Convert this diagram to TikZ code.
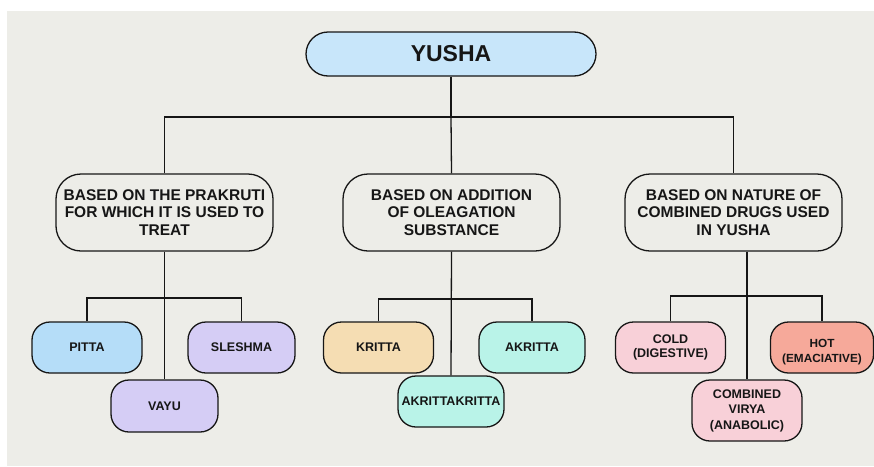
\documentclass[tikz,border=0pt]{standalone}
\usepackage{fontspec}
\setmainfont{Liberation Sans}
\definecolor{bg}{HTML}{EDEDE8}
\definecolor{ink}{HTML}{161616}
\definecolor{cyusha}{HTML}{C8E6FA}
\definecolor{cpitta}{HTML}{B5DDF8}
\definecolor{clav}{HTML}{D5CDF5}
\definecolor{cbeige}{HTML}{F5DDB3}
\definecolor{cmint}{HTML}{B9F3E8}
\definecolor{cpink}{HTML}{F8D0D8}
\definecolor{csalmon}{HTML}{F6A99A}
\tikzset{
  box/.style={draw=ink, line width=1.3pt, align=center, text=ink, inner sep=0pt, font=\bfseries},
  topbox/.style={box, rounded corners=22pt, minimum width=290pt, minimum height=44pt, fill=cyusha, font=\fontsize{23}{26}\selectfont\bfseries},
  midbox/.style={box, rounded corners=25pt, minimum width=217pt, minimum height=77pt, font=\fontsize{15.5}{17.5}\selectfont\bfseries},
  leaf/.style={box, rounded corners=18pt, minimum height=51pt, font=\fontsize{12.5}{14.5}\selectfont\bfseries},
  conn/.style={draw=ink, line width=1.3pt}
}
\begin{document}
\begin{tikzpicture}[x=1pt,y=-1pt]
\useasboundingbox (0,0) rectangle (874,466);
\fill[white] (0,0) rectangle (874,466);
\fill[bg] (7,11) rectangle (874,466);

\node[topbox] (yusha) at (451,54) {YUSHA};

\node[midbox] (b1) at (164.5,212.5) {BASED ON THE PRAKRUTI\\FOR WHICH IT IS USED TO\\TREAT};
\node[midbox] (b2) at (451.5,212.5) {BASED ON ADDITION\\OF OLEAGATION\\SUBSTANCE};
\node[midbox] (b3) at (733.5,212.5) {BASED ON NATURE OF\\COMBINED DRUGS USED\\IN YUSHA};

\node[leaf, fill=cpitta, minimum width=110pt] (pitta) at (87,347.5) {PITTA};
\node[leaf, fill=clav, minimum width=107pt] (sleshma) at (241.5,347.5) {SLESHMA};
\node[leaf, fill=clav, minimum width=107pt, minimum height=52pt] (vayu) at (164.5,406) {VAYU};

\node[leaf, fill=cbeige, minimum width=110pt] (kritta) at (378.5,347.5) {KRITTA};
\node[leaf, fill=cmint, minimum width=106pt] (akritta) at (532,347.5) {AKRITTA};
\node[leaf, fill=cmint, minimum width=106pt] (akak) at (451,401.5) {AKRITTAKRITTA};

\node[leaf, fill=cpink, minimum width=110pt] (cold) at (670.5,347.5) {COLD\\(DIGESTIVE)};
\node[leaf, fill=csalmon, minimum width=103pt, font=\fontsize{11.8}{15}\selectfont\bfseries] (hot) at (822,347.5) {\rule{0pt}{17pt}HOT\\(EMACIATIVE)};
\node[leaf, fill=cpink, minimum width=110pt, minimum height=61pt, font=\fontsize{12.5}{15.5}\selectfont\bfseries] (comb) at (747,410.5) {COMBINED\\VIRYA\\(ANABOLIC)};

% top level connectors
\coordinate (t0) at (451,117);
\draw[conn] (yusha.south) -- (t0);
\draw[conn] (b1.north) |- (t0) -| (b3.north);
\draw[conn] (t0) -- (b2.north);

% left subtree
\coordinate (t1) at (164.5,298);
\draw[conn] (b1.south) -- (vayu.north);
\draw[conn] (pitta.north) |- (t1) -| (sleshma.north);

% middle subtree
\coordinate (t2) at (451.5,299);
\draw[conn] (b2.south) -- (akak.north);
\draw[conn] (kritta.north) |- (t2) -| (akritta.north);

% right subtree
\coordinate (t3) at (747,296);
\draw[conn] (comb.north |- b3.south) -- (comb.north);
\draw[conn] (cold.north) |- (t3) -| (hot.north);
\end{tikzpicture}
\end{document}
